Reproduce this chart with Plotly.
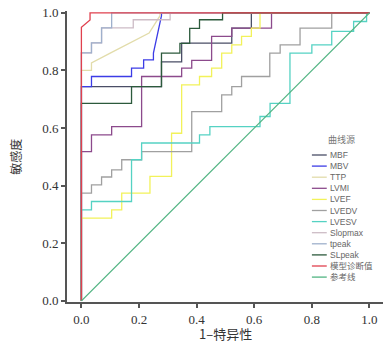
import plotly.graph_objects as go

# ---- data (FPR = 1-特异性, TPR = 敏感度) ----
names = ["MBF", "MBV", "TTP", "LVMI", "LVEF", "LVEDV", "LVESV", "Slopmax", "tpeak", "SLpeak", "模型诊断值", "参考线"]
colors = ["#4a4e66", "#3c3ce6", "#e2dcaa", "#8c4a8c", "#f2f25a", "#a0a0a0", "#55d2c3", "#cdbcc6", "#9fb0cc", "#2c5a3c", "#e0404e", "#50b482"]

mbf_x = [0, 0, 0.278, 0.278, 0.348, 0.348, 0.522, 0.522, 0.59, 0.59, 1]
mbf_y = [0, 0.744, 0.744, 0.83, 0.83, 0.895, 0.895, 0.947, 0.947, 1, 1]
mbv_x = [0, 0, 0.035, 0.035, 0.174, 0.174, 0.216, 0.216, 0.25, 0.25, 0.278, 0.278, 1]
mbv_y = [0, 0.744, 0.744, 0.779, 0.779, 0.808, 0.808, 0.837, 0.837, 0.86, 0.99, 1, 1]
ttp_x = [0, 0, 0.035, 0.035, 0.1, 0.17, 0.235, 0.273, 0.273, 1]
ttp_y = [0, 0.8, 0.8, 0.826, 0.86, 0.895, 0.93, 0.99, 1, 1]
lvmi_x = [0, 0, 0.035, 0.035, 0.105, 0.105, 0.209, 0.209, 0.348, 0.348, 0.383, 0.383, 0.452, 0.452, 0.522, 0.522, 0.66, 0.66, 1]
lvmi_y = [0, 0.518, 0.518, 0.576, 0.576, 0.605, 0.605, 0.779, 0.779, 0.808, 0.808, 0.835, 0.835, 0.918, 0.918, 0.947, 0.947, 1, 1]
lvef_x = [0, 0, 0.105, 0.105, 0.14, 0.14, 0.238, 0.238, 0.313, 0.313, 0.348, 0.348, 0.41, 0.41, 0.452, 0.452, 0.487, 0.487, 0.522, 0.522, 0.556, 0.556, 0.59, 0.59, 0.62, 0.62, 1]
lvef_y = [0, 0.287, 0.287, 0.316, 0.316, 0.374, 0.374, 0.432, 0.432, 0.582, 0.582, 0.75, 0.75, 0.779, 0.779, 0.808, 0.808, 0.86, 0.86, 0.889, 0.889, 0.918, 0.918, 0.947, 0.947, 1, 1]
lvedv_x = [0, 0, 0.035, 0.035, 0.07, 0.07, 0.105, 0.105, 0.14, 0.14, 0.209, 0.209, 0.383, 0.383, 0.487, 0.487, 0.522, 0.522, 0.556, 0.556, 0.654, 0.654, 0.69, 0.69, 0.759, 0.759, 0.869, 0.869, 1]
lvedv_y = [0, 0.374, 0.374, 0.403, 0.403, 0.43, 0.43, 0.455, 0.455, 0.49, 0.49, 0.518, 0.518, 0.657, 0.657, 0.715, 0.715, 0.744, 0.744, 0.779, 0.779, 0.86, 0.86, 0.889, 0.889, 0.947, 0.947, 1, 1]
lvesv_x = [0, 0, 0.035, 0.035, 0.174, 0.174, 0.209, 0.209, 0.41, 0.41, 0.446, 0.446, 0.62, 0.62, 0.655, 0.655, 0.724, 0.724, 0.8, 0.8, 0.869, 0.869, 0.945, 0.945, 0.99, 0.99, 1]
lvesv_y = [0, 0.316, 0.316, 0.345, 0.345, 0.49, 0.49, 0.548, 0.548, 0.576, 0.576, 0.605, 0.605, 0.64, 0.64, 0.686, 0.686, 0.86, 0.86, 0.889, 0.889, 0.936, 0.936, 0.97, 0.97, 1, 1]
slop_x = [0, 0, 0.035, 0.035, 0.07, 0.07, 0.18, 0.18, 0.308, 0.308, 1]
slop_y = [0, 0.861, 0.861, 0.896, 0.896, 0.948, 0.948, 0.976, 0.976, 1, 1]
tpeak_x = [0, 0, 0.035, 0.035, 0.07, 0.07, 0.105, 0.105, 1]
tpeak_y = [0, 0.861, 0.861, 0.896, 0.896, 0.948, 0.948, 1, 1]
slpeak_x = [0, 0, 0.174, 0.174, 0.278, 0.278, 0.342, 0.342, 0.376, 0.376, 0.41, 0.41, 0.49, 0.49, 1]
slpeak_y = [0, 0.686, 0.686, 0.744, 0.744, 0.86, 0.86, 0.894, 0.894, 0.946, 0.946, 0.976, 0.976, 1, 1]
model_x = [0, 0, 0.03, 0.03, 1]
model_y = [0, 0.95, 0.975, 1, 1]
ref_x = [0, 1]
ref_y = [0, 1]

tick_vals = [0.0, 0.2, 0.4, 0.6, 0.8, 1.0]

series = [
    (mbf_x, mbf_y), (mbv_x, mbv_y), (ttp_x, ttp_y), (lvmi_x, lvmi_y),
    (lvef_x, lvef_y), (lvedv_x, lvedv_y), (lvesv_x, lvesv_y), (slop_x, slop_y),
    (tpeak_x, tpeak_y), (slpeak_x, slpeak_y), (model_x, model_y), (ref_x, ref_y),
]

fig = go.Figure()
for (xs, ys), n, c in zip(series, names, colors):
    fig.add_trace(go.Scatter(x=xs, y=ys, mode="lines", name=n,
                             line=dict(color=c, width=1.3), showlegend=False))

# plot area geometry in paper units (top at 11px, bottom at 302px of 351)
ph = 291.0
def py(p):
    return (302.0 - p) / ph

# manual compact legend
legend_top = py(155)
step = 11.1 / ph
fig.add_annotation(x=0.87, y=py(139), xref="paper", yref="paper",
                   text="曲线源", showarrow=False, xanchor="center", yanchor="middle",
                   font=dict(size=9, color="#777", family="Noto Sans CJK SC"))
for i, (n, c) in enumerate(zip(names, colors)):
    yy = legend_top - i * step
    fig.add_shape(type="line", xref="paper", yref="paper",
                  x0=0.775, x1=0.822, y0=yy, y1=yy, line=dict(color=c, width=1.3))
    fig.add_annotation(x=0.826, y=yy, xref="paper", yref="paper", text=n,
                       showarrow=False, xanchor="left", yanchor="middle",
                       font=dict(size=8.5, color="#666", family="Liberation Sans, Noto Sans CJK SC"))

# axis titles
fig.add_annotation(x=0.5, y=py(333), xref="paper", yref="paper", text="1–特异性",
                   showarrow=False, xanchor="center", yanchor="middle",
                   font=dict(family="Noto Sans CJK SC", size=13, color="#333"))
fig.add_annotation(x=-0.165, y=py(157), xref="paper", yref="paper", text="敏感度",
                   showarrow=False, xanchor="center", yanchor="middle", textangle=-90,
                   font=dict(family="Noto Sans CJK SC", size=12, color="#333"))

axis_common = dict(showgrid=False, zeroline=False, showline=True, linecolor="#555",
                   linewidth=2, ticks="outside", ticklen=4, tickwidth=1.5, tickcolor="#555",
                   tickfont=dict(family="Liberation Serif", size=13, color="#333"),
                   tickmode="array", tickvals=tick_vals, tickformat=".1f", automargin=False)
fig.update_xaxes(range=[-0.05, 1.047], **axis_common)
fig.update_yaxes(range=[-0.004, 1.0064], **axis_common)
fig.update_layout(width=385, height=351, margin=dict(l=67, r=2, t=11, b=49),
                  plot_bgcolor="white", paper_bgcolor="white")
fig.write_html("out.html", config={"displayModeBar": False},
               post_script="document.body.style.margin='0';document.body.style.overflow='hidden';")
